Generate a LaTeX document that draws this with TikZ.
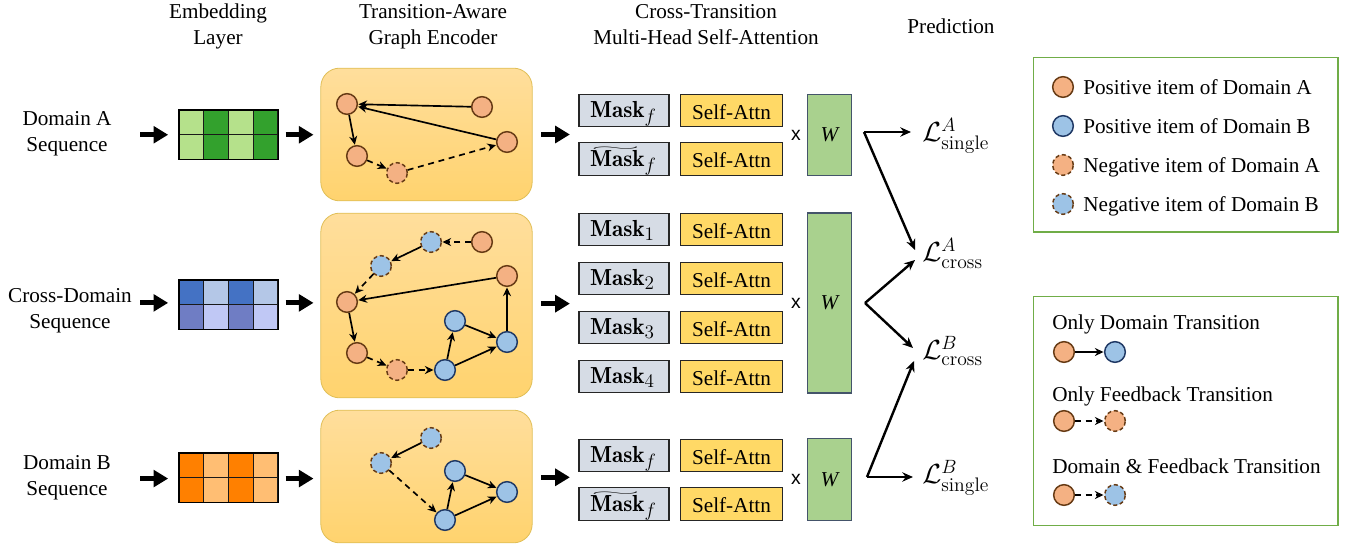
\documentclass[tikz,border=0pt]{standalone}
\usepackage{fontspec}
\usepackage{amsmath}
\DeclareMathSizes{17.4}{17.4}{13.5}{10}
\newfontfamily\tms{Liberation Serif}
\newfontfamily\arl{Liberation Sans}
\usetikzlibrary{arrows.meta,shadings}
\definecolor{posA}{HTML}{F4B183}
\definecolor{posB}{HTML}{9DC3E6}
\definecolor{brdA}{HTML}{663A14}
\definecolor{brdB}{HTML}{1F3864}
\definecolor{maskc}{HTML}{D6DCE5}
\definecolor{attnc}{HTML}{FFD966}
\definecolor{wc}{HTML}{A9D18E}
\definecolor{wb}{HTML}{44546A}
\definecolor{legc}{HTML}{70AD47}
\definecolor{encT}{HTML}{FFDE9C}
\definecolor{encB}{HTML}{FFD36E}
\definecolor{encD}{HTML}{E0BE55}
\definecolor{gl}{HTML}{B5E18B}
\definecolor{gd}{HTML}{33A12D}
\definecolor{bla}{HTML}{4472C4}
\definecolor{blb}{HTML}{B4C7E7}
\definecolor{blc}{HTML}{6F7DC4}
\definecolor{bld}{HTML}{C0C8F5}
\definecolor{ora}{HTML}{FF8000}
\definecolor{orb}{HTML}{FFBE73}
\newcommand{\masktil}{\rlap{\raisebox{12pt}[0pt][0pt]{\resizebox{38pt}{2.6pt}{$\sim$}}}$\mathbf{Mask}_{f}$}
\tikzset{
  x=0.75pt,y=-0.75pt,
  txt/.style={font=\tms\fontsize{15.9}{19.4}\selectfont,inner sep=0pt,align=center},
  ltxt/.style={txt,anchor=west,align=left,text height=13.7pt,text depth=3pt},
  pa/.style={circle,draw=brdA,fill=posA,line width=1.1pt,minimum size=15.5pt,inner sep=0pt},
  pb/.style={circle,draw=brdB,fill=posB,line width=1.1pt,minimum size=15.5pt,inner sep=0pt},
  na/.style={pa,densely dashed},
  nb/.style={pb,draw=brdA,densely dashed},
  edge/.style={-{Stealth[length=6.5pt,width=6pt]},line width=1.25pt,black,shorten >=0.3pt},
  dedge/.style={edge,dash pattern=on 4.5pt off 3.5pt},
  blk/.style={-{Triangle[length=11pt,width=12.5pt]},line width=3.6pt,black},
  loss/.style={-{Stealth[length=8pt,width=7pt]},line width=1.8pt,black},
  enc/.style={rectangle,rounded corners=14pt,draw=encD,line width=0.6pt,top color=encT,bottom color=encB,minimum width=158.5pt,inner sep=0pt},
  maskn/.style={rectangle,draw=black!85,fill=maskc,line width=0.9pt,minimum width=67.5pt,minimum height=24.5pt,inner sep=0pt,font=\fontsize{17.4}{20}\selectfont,text width=51pt,align=left,text height=14pt,text depth=3.5pt},
  attn/.style={rectangle,draw=black!85,fill=attnc,line width=0.9pt,minimum width=77pt,minimum height=24.5pt,inner sep=0pt,font=\tms\fontsize{15.9}{19}\selectfont,text height=13pt},
  wn/.style={rectangle,draw=wb,fill=wc,line width=0.9pt,minimum width=32.5pt,inner sep=0pt,font=\tms\itshape\fontsize{15.9}{19}\selectfont},
  xn/.style={inner sep=0pt,font=\arl\fontsize{14.5}{16}\selectfont},
  lossn/.style={inner sep=0pt,anchor=west,font=\fontsize{21}{25}\selectfont},
  legn/.style={rectangle,draw=legc,line width=1pt,minimum width=228.5pt,inner sep=0pt},
  embn/.style={rectangle,draw=black,line width=1pt,minimum width=74.5pt,minimum height=37pt,inner sep=0pt},
  cell/.style={draw=black!90,line width=0.9pt},
}
\newcommand{\embcells}[6]{%
  \foreach \i/\c in {0/#3,1/#4,2/#3,3/#4}{\draw[cell,fill=\c] ({#1+\i*24.75},{#2}) rectangle ++(24.75,24.75);}
  \foreach \i/\c in {0/#5,1/#6,2/#5,3/#6}{\draw[cell,fill=\c] ({#1+\i*24.75},{#2+24.75}) rectangle ++(24.75,24.75);}
}
\begin{document}
\begin{tikzpicture}
\useasboundingbox (0,0) rectangle (1356,546);
% titles
\node[txt] (t1) at (218,26) {Embedding\\Layer};
\node[txt] (t2) at (433,27) {Transition-Aware\\Graph Encoder};
\node[txt] (t3) at (706,25) {Cross-Transition\\Multi-Head Self-Attention};
\node[txt] (t4) at (951,26) {Prediction};
% sequence labels
\node[txt] (s1) at (67,134) {Domain A\\Sequence};
\node[txt] (s2) at (70,311) {Cross-Domain\\Sequence};
\node[txt] (s3) at (67,478) {Domain B\\Sequence};
% embeddings
\embcells{179}{110}{gl}{gd}{gl}{gd}
\embcells{179}{280}{bla}{blb}{blc}{bld}
\embcells{179}{453}{ora}{orb}{ora}{orb}
\node[embn] (e1) at (228.5,134.75) {};
\node[embn] (e2) at (228.5,304.75) {};
\node[embn] (e3) at (228.5,477.75) {};
% encoders
\node[enc,minimum height=99.5pt] (g1) at (426.5,134.5) {};
\node[enc,minimum height=138.5pt] (g2) at (426.5,305.5) {};
\node[enc,minimum height=99.5pt] (g3) at (426.5,476.5) {};
% block arrows
\foreach \n/\s in {1/0,2/1.4,3/-0.6}{
  \draw[blk] ([xshift=-28.5pt,yshift=\s pt]e\n.west) -- ([xshift=-7.5pt,yshift=\s pt]e\n.west);
  \draw[blk] ([xshift=5pt,yshift=\s pt]e\n.east) -- ([xshift=26pt,yshift=\s pt]e\n.east);
  \draw[blk] ([xshift=6.5pt,yshift=\s pt]g\n.east) -- ([xshift=28pt,yshift=\s pt]g\n.east);
}
% graph 1
\node[pa] (a1) at (347,104) {};
\node[pa] (a2) at (482,107) {};
\node[pa] (a3) at (507,142) {};
\node[pa] (a4) at (357,156) {};
\node[na] (a5) at (397,173) {};
\draw[edge] (a2) -- (a1);
\draw[edge] (a3) -- (a1);
\draw[edge] (a1) -- (a4);
\draw[dedge] (a4) -- (a5);
\draw[dedge] (a5) -- (a3);
% graph 2
\node[nb] (b1) at (431,242) {};
\node[pa] (b2) at (482,242) {};
\node[nb] (b3) at (381,266) {};
\node[pa] (b4) at (507,276) {};
\node[pa] (b5) at (347,302) {};
\node[pb] (b6) at (455,321) {};
\node[pb] (b7) at (507,342) {};
\node[pa] (b8) at (357,353) {};
\node[na] (b9) at (397,370) {};
\node[pb] (b10) at (445,370) {};
\draw[dedge] (b2) -- (b1);
\draw[edge] (b1) -- (b3);
\draw[dedge] (b3) -- (b5);
\draw[edge] (b4) -- (b5);
\draw[edge] (b5) -- (b8);
\draw[dedge] (b8) -- (b9);
\draw[dedge] (b9) -- (b10);
\draw[edge] (b10) -- (b6);
\draw[edge] (b10) -- (b7);
\draw[edge] (b6) -- (b7);
\draw[edge] (b7) -- (b4);
% graph 3
\node[nb] (c1) at (431,438) {};
\node[nb] (c2) at (381,463) {};
\node[pb] (c3) at (455,471) {};
\node[pb] (c4) at (507,492) {};
\node[pb] (c5) at (445,520) {};
\draw[edge] (c1) -- (c2);
\draw[dedge] (c2) -- (c5);
\draw[edge] (c5) -- (c3);
\draw[edge] (c5) -- (c4);
\draw[edge] (c3) -- (c4);
% masks
\node[maskn] (m1) at (624,110.5) {$\mathbf{Mask}_{f}$};
\node[maskn] (m2) at (624,159) {\masktil};
\node[maskn] (m3) at (624,229.5) {$\mathbf{Mask}_{1}$};
\node[maskn] (m4) at (624,278.5) {$\mathbf{Mask}_{2}$};
\node[maskn] (m5) at (624,327.5) {$\mathbf{Mask}_{3}$};
\node[maskn] (m6) at (624,376.5) {$\mathbf{Mask}_{4}$};
\node[maskn] (m7) at (624,455.5) {$\mathbf{Mask}_{f}$};
\node[maskn] (m8) at (624,504) {\masktil};
\foreach \n/\y in {1/110.5,2/159,3/229.5,4/278.5,5/327.5,6/376.5,7/455.5,8/504}{
  \node[attn] (sa\n) at (731.5,\y) {Self-Attn};
}
% W
\node[wn,minimum height=61pt] (w1) at (829.5,135) {W};
\node[wn,minimum height=135pt] (w2) at (829.5,303) {W};
\node[wn,minimum height=61pt] (w3) at (829.5,479.5) {W};
\node[xn] (x1) at (796,135) {x};
\node[xn] (x2) at (796,303) {x};
\node[xn] (x3) at (796,479) {x};
% losses
\node[lossn] (l1) at (922,136) {$\mathcal{L}^{A}_{\mathrm{single}}$};
\node[lossn] (l2) at (922,253.5) {$\mathcal{L}^{A}_{\mathrm{cross}}$};
\node[lossn] (l3) at (922,351) {$\mathcal{L}^{B}_{\mathrm{cross}}$};
\node[lossn] (l4) at (922,477.5) {$\mathcal{L}^{B}_{\mathrm{single}}$};
\coordinate (h1) at (864,132);
\coordinate (h2) at (865,303);
\coordinate (h3) at (867,477);
\coordinate (p1) at (911,132);
\coordinate (p2) at (915,250);
\coordinate (p3) at (915,260);
\coordinate (p4) at (913,348);
\coordinate (p5) at (914,361);
\coordinate (p6) at (913,477);
\draw[loss] (h1) -- (p1);
\draw[loss] (h1) -- (p2);
\draw[loss] (h2) -- (p3);
\draw[loss] (h2) -- (p4);
\draw[loss] (h3) -- (p5);
\draw[loss] (h3) -- (p6);
% legend 1
\node[legn,minimum height=131pt] (la) at (1185.5,144.5) {};
\node[pa] (k1) at (1063,87) {};
\node[pb] (k2) at (1063,126) {};
\node[na] (k3) at (1063,165) {};
\node[nb] (k4) at (1063,204) {};
\node[ltxt] (kt1) at (1083,87) {Positive item of Domain A};
\node[ltxt] (kt2) at (1083,126) {Positive item of Domain B};
\node[ltxt] (kt3) at (1083,165) {Negative item of Domain A};
\node[ltxt] (kt4) at (1083,204) {Negative item of Domain B};
% legend 2
\node[legn,minimum height=172pt] (lb) at (1185.5,411) {};
\node[ltxt] (tt1) at (1052,322) {Only Domain Transition};
\node[ltxt] (tt2) at (1052,394) {Only Feedback Transition};
\node[ltxt] (tt3) at (1052,466) {Domain \& Feedback Transition};
\node[pa] (d1) at (1064,352) {};
\node[pb] (d2) at (1115,352) {};
\node[pa] (d3) at (1064,421) {};
\node[na] (d4) at (1115,421) {};
\node[pa] (d5) at (1064,495) {};
\node[nb] (d6) at (1115,495) {};
\draw[edge] (d1) -- (d2);
\draw[dedge] (d3) -- (d4);
\draw[dedge] (d5) -- (d6);
\end{tikzpicture}
\end{document}
